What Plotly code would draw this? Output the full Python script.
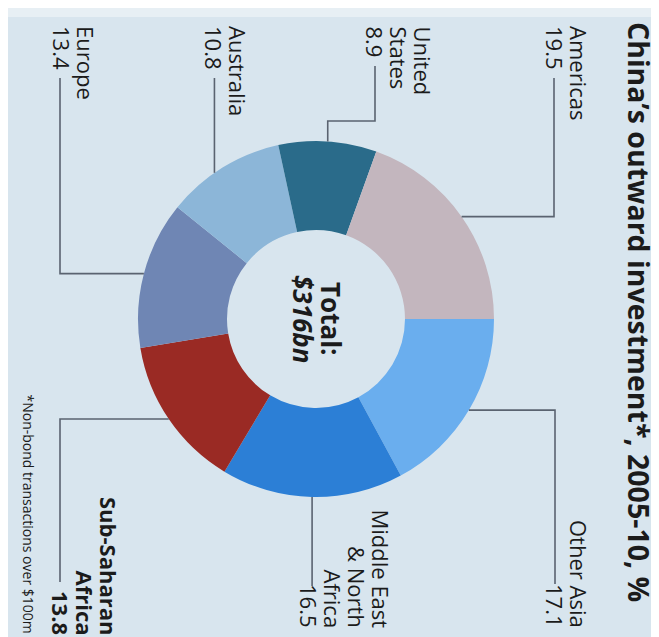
import math
import plotly.graph_objects as go

# ---------------- data ----------------
regions = ["Other Asia", "Middle East & North Africa", "Sub-Saharan Africa",
           "Europe", "Australia", "United States", "Americas"]
shares = [17.1, 16.5, 13.8, 13.4, 10.8, 8.9, 19.5]
label_lines = [["Other Asia"], ["Middle East", "& North", "Africa"],
               ["Sub-Saharan", "Africa"], ["Europe"], ["Australia"],
               ["United", "States"], ["Americas"]]
total_lines = ["Total:", "$316bn"]
title_text = "China\u2019s outward investment*, 2005-10, %"
note_text = "*Non-bond transactions over $100m"

colors = ["#6aaeee", "#2c7fd6", "#9a2a24", "#6f86b4", "#8cb6d8", "#2a6b8a", "#c3b6be"]
highlight = "Sub-Saharan Africa"

# ---------------- layout geometry (pixels) ----------------
W, H = 659, 637
CX, CY, R = 308, 311, 178
HOLE = 0.5
LINE_COL = "#5a6370"
TXT_COL = "#1b1b1b"
FONT = "Open Sans"
LBL_SIZE, LBL_PITCH = 22, 24

def fx(px):
    return px / W

def fy(py):
    return 1 - py / H

attach_frac = [0.5, 0.5, 0.5, 0.5, 0.42, 0.5, 0.5]

# nx: x of the value line centre; ly: text edge; ya: which edge
routes = {
    "Other Asia": dict(kind="h", xe=547, ye=576, nx=547, ly=622, ya="bottom"),
    "Middle East & North Africa": dict(kind="v", ye=578, nx=301, ly=622, ya="bottom"),
    "Sub-Saharan Africa": dict(kind="h", xe=52, ye=574, nx=53, ly=629, ya="bottom"),
    "Europe": dict(kind="h", xe=52, ye=70, nx=54, ly=16, ya="top"),
    "Australia": dict(kind="v", ye=70, nx=206, ly=16, ya="top"),
    "United States": dict(kind="us", yj=113, xe=367, ye=58, nx=367, ly=16, ya="top"),
    "Americas": dict(kind="h", xe=546, ye=70, nx=547, ly=16, ya="top"),
}

fig = go.Figure()
fig.add_trace(go.Pie(
    labels=regions, values=shares, sort=False, direction="clockwise",
    rotation=90, hole=HOLE, textinfo="none", hoverinfo="label+value",
    marker=dict(colors=colors, line=dict(width=0)),
    domain=dict(x=[fx(CX - R), fx(CX + R)], y=[fy(CY + R), fy(CY - R)]),
    showlegend=False,
))

shapes = [
    dict(type="rect", xref="paper", yref="paper", x0=fx(0), x1=fx(651),
         y0=fy(632), y1=fy(9), fillcolor="#d8e5ee", line=dict(width=0), layer="below"),
]
annotations = []

def rot_text(text, x, y, ya, size, bold=False, italic=False, xa="center"):
    if italic:
        text = "<i>" + text + "</i>"
    if bold:
        text = "<b>" + text + "</b>"
    annotations.append(dict(
        text=text, xref="paper", yref="paper", x=fx(x), y=fy(y),
        xanchor=xa, yanchor=ya, textangle=90, showarrow=False,
        font=dict(family=FONT, size=size, color=TXT_COL)))

total = sum(shares)
cum = 0.0
for name, val, lines, frac in zip(regions, shares, label_lines, attach_frac):
    a0 = cum / total * 360
    a1 = (cum + val) / total * 360
    cum += val
    ang = math.radians(a0 + frac * (a1 - a0))  # clockwise from 3 o'clock
    px = CX + R * math.cos(ang)
    py = CY + R * math.sin(ang)
    r = routes[name]
    if r["kind"] == "h":
        pts = [(px, py), (r["xe"], py), (r["xe"], r["ye"])]
    elif r["kind"] == "v":
        pts = [(px, py), (px, r["ye"])]
    else:
        pts = [(px, py), (px, r["yj"]), (r["xe"], r["yj"]), (r["xe"], r["ye"])]
    path = "M " + " L ".join(f"{fx(x):.5f},{fy(y):.5f}" for x, y in pts)
    shapes.append(dict(type="path", xref="paper", yref="paper", path=path,
                       line=dict(color=LINE_COL, width=1.6)))
    all_lines = lines + [f"{val:.1f}"]
    n = len(all_lines)
    for i, t in enumerate(all_lines):
        xc = r["nx"] + (n - 1 - i) * LBL_PITCH
        rot_text(t, xc, r["ly"], r["ya"], LBL_SIZE, bold=(name == highlight))

# title
rot_text(title_text, 631, 12, "top", 28.5, bold=True)
# footnote
rot_text(note_text, 20, 627, "bottom", 14)
# centre total
rot_text(total_lines[0], CX + 15, CY, "middle", 26, bold=True)
rot_text(total_lines[1], CX - 13, CY, "middle", 26, bold=True, italic=True)

fig.update_layout(
    width=W, height=H, margin=dict(l=0, r=0, t=0, b=0),
    paper_bgcolor="#e7eff4", plot_bgcolor="#d8e5ee",
    shapes=shapes, annotations=annotations,
)
fig.write_html("out.html")
